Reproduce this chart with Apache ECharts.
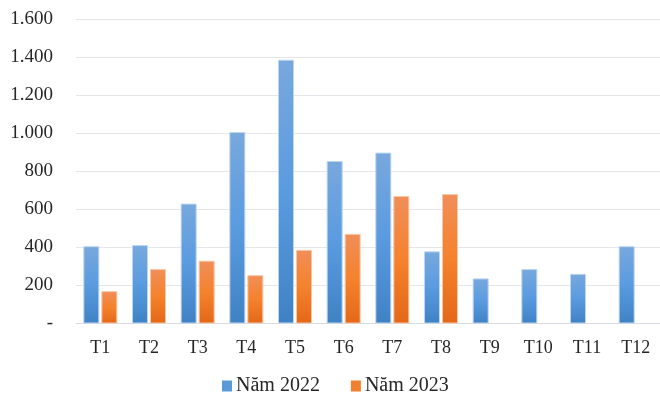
<!DOCTYPE html>
<html>
<head>
<meta charset="utf-8">
<script src="https://cdn.jsdelivr.net/npm/echarts@6/dist/echarts.min.js"></script>
<style>
  html, body { margin: 0; padding: 0; background: #ffffff; }
  #chart { width: 660px; height: 397px; }
</style>
</head>
<body>
<div id="chart"></div>
<script>
// Monthly figures, 2022 vs 2023
const months = ['T1', 'T2', 'T3', 'T4', 'T5', 'T6', 'T7', 'T8', 'T9', 'T10', 'T11', 'T12'];
const seriesNames = ['Năm 2022', 'Năm 2023'];
const values2022 = [406, 412, 630, 1006, 1386, 854, 898, 379, 237, 286, 261, 406];
const values2023 = [170, 286, 330, 254, 387, 471, 670, 680, null, null, null, null];
const yTicks = { min: 0, max: 1600, step: 200 };

const FONT = '"Liberation Serif", "DejaVu Serif", serif';

function grad(top, mid, bottom) {
  return new echarts.graphic.LinearGradient(0, 0, 0, 1, [
    { offset: 0, color: top },
    { offset: 0.5, color: mid },
    { offset: 1, color: bottom }
  ]);
}

// 1.600 style thousands separator, zero shown as a dash
function fmt(v) {
  if (v === 0) return '-';
  return String(v).replace(/\B(?=(\d{3})+(?!\d))/g, '.');
}

const chart = echarts.init(document.getElementById('chart'), null, { renderer: 'canvas' });

chart.setOption({
  animation: false,
  backgroundColor: '#ffffff',
  grid: { left: 76, top: 19, width: 589, bottom: 73.5, containLabel: false },
  legend: {
    data: [
      { name: seriesNames[0], itemStyle: { color: '#5a9ad9', borderWidth: 0 } },
      { name: seriesNames[1], itemStyle: { color: '#f07f2e', borderWidth: 0 } }
    ],
    left: 222,
    top: 376,
    padding: 0,
    itemWidth: 10,
    itemHeight: 11,
    itemGap: 31,
    icon: 'rect',
    textStyle: { fontFamily: FONT, fontSize: 20, color: '#262626', padding: [0, 0, 0, -1] }
  },
  xAxis: {
    type: 'category',
    data: months,
    axisLine: { show: true, lineStyle: { color: '#d9dbe2', width: 1 } },
    axisTick: { show: false },
    axisLabel: { fontFamily: FONT, fontSize: 18, color: '#262626', margin: 16 },
    splitLine: { show: false }
  },
  yAxis: {
    type: 'value',
    min: yTicks.min,
    max: yTicks.max,
    interval: yTicks.step,
    axisLine: { show: false },
    axisTick: { show: false },
    axisLabel: { fontFamily: FONT, fontSize: 19, color: '#262626', margin: 23, formatter: fmt },
    splitLine: { show: true, lineStyle: { color: '#e4e6ec', width: 1 } }
  },
  series: [
    {
      name: seriesNames[0],
      type: 'bar',
      data: values2022,
      barWidth: 16,
      barGap: '12.5%',
      itemStyle: {
        color: grad('#78a8dd', '#5a9be0', '#3f82c4'),
        borderColor: '#bcd5f0',
        borderWidth: 1
      }
    },
    {
      name: seriesNames[1],
      type: 'bar',
      data: values2023,
      barWidth: 16,
      barGap: '12.5%',
      itemStyle: {
        color: grad('#f08e5a', '#f5822c', '#e36818'),
        borderColor: '#fac7a6',
        borderWidth: 1
      }
    }
  ]
});
</script>
</body>
</html>
